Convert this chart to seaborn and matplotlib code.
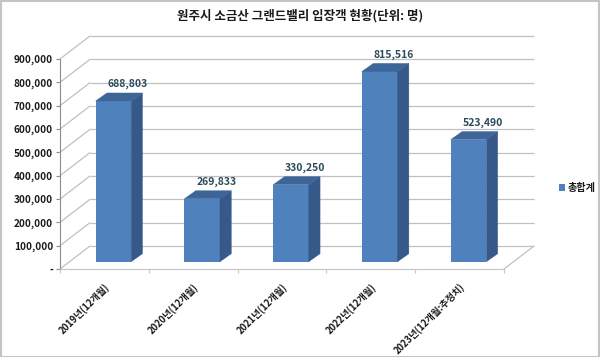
import matplotlib
matplotlib.use("Agg")
import matplotlib.pyplot as plt
import matplotlib.transforms as mtransforms
from matplotlib.patches import Polygon, Rectangle
import seaborn as sns
import pandas as pd

categories = ["2019년(12개월)", "2020년(12개월)", "2021년(12개월)", "2022년(12개월)", "2023년(12개월:추정치)"]
values = [688803, 269833, 330250, 815516, 523490]
yticks = [0, 100000, 200000, 300000, 400000, 500000, 600000, 700000, 800000, 900000]
title = "원주시 소금산 그랜드밸리 입장객 현황(단위: 명)"
series_name = "총합계"

sns.set_theme(style="white")
plt.rcParams["font.family"] = ["Noto Sans CJK KR", "DejaVu Sans"]

W, H = 600, 357
fig = plt.figure(figsize=(W / 100, H / 100), dpi=100)
ax_l, ax_r, ax_t, ax_b = 60, 504, 59, 269
ax = fig.add_axes([ax_l / W, (H - ax_b) / H, (ax_r - ax_l) / W, (ax_b - ax_t) / H])

df = pd.DataFrame({"cat": categories, "val": values})
front = "#4F81BD"
side = "#36598A"
topc = "#3D6597"
sns.barplot(data=df, x="cat", y="val", color=front, width=0.40, ax=ax,
            saturation=1, label=series_name, zorder=3, linewidth=0, edgecolor=front)

ax.set_xlim(-0.5, 4.5)
ax.set_ylim(0, 900000)

ux = 5 / (ax_r - ax_l)
uy = 900000 / (ax_b - ax_t)

# Bar placement inside the 3D box
fx, fy = 9, 7.3      # front face offset (px)
dx, dy = 11.3, 8     # bar depth (px)
off = mtransforms.ScaledTranslation(fx / 100, fy / 100, fig.dpi_scale_trans)
for p in list(ax.patches):
    p.set_transform(ax.transData + off)
    x0, w, h = p.get_x(), p.get_width(), p.get_height()
    X0 = x0 + fx * ux
    X1 = x0 + w + fx * ux
    Y0 = fy * uy
    Y1 = h + fy * uy
    ddx, ddy = dx * ux, dy * uy
    ax.add_patch(Polygon([(X1, Y0), (X1, Y1), (X1 + ddx, Y1 + ddy), (X1 + ddx, Y0 + ddy)],
                         closed=True, facecolor=side, edgecolor=side, lw=0.3, zorder=3))
    ax.add_patch(Polygon([(X0, Y1), (X1, Y1), (X1 + ddx, Y1 + ddy), (X0 + ddx, Y1 + ddy)],
                         closed=True, facecolor=topc, edgecolor=topc, lw=0.3, zorder=3))

# Back wall and side wall lines
bx, by = 30 * ux, 23 * uy
grid_c = "#C0C0C0"
ax.hlines([v + by for v in yticks], -0.5 + bx, 4.5 + bx, colors=grid_c, lw=0.9,
          zorder=1, clip_on=False)
for v in yticks:
    ax.plot([-0.5, -0.5 + bx], [v, v + by], color=grid_c, lw=0.9, zorder=1, clip_on=False)
ax.plot([4.5, 4.5 + bx], [0, by], color=grid_c, lw=0.9, zorder=1, clip_on=False)

# Data labels
for i, v in enumerate(values):
    ax.text(i + 23 * ux, v + 24 * uy, f"{v:,}", ha="center", va="center",
            fontsize=7.5, fontweight="bold", color="#2B4B5C", clip_on=False, zorder=4)

# Axes styling
for s in ["top", "right"]:
    ax.spines[s].set_visible(False)
ax.spines["left"].set_color("#8C8C8C")
ax.spines["left"].set_linewidth(0.8)
ax.spines["bottom"].set_color("#C8C8C8")
ax.spines["bottom"].set_linewidth(0.9)

ax.set_yticks(yticks)
ax.set_yticklabels(["-" if v == 0 else f"{v:,}" for v in yticks], fontsize=7.2,
                   fontweight="bold", color="#1A1A1A")
ax.tick_params(axis="y", left=True, length=3, width=0.8, color="#8C8C8C", pad=2)

ax.set_xticks(range(len(categories)))
ax.set_xticklabels(categories, rotation=45, ha="right", rotation_mode="anchor",
                   fontsize=6.8, fontweight="bold", color="#1A1A1A")
ax.tick_params(axis="x", bottom=True, length=0, pad=9)
ax.set_xticks([i - 0.5 for i in range(len(categories) + 1)], minor=True)
ax.tick_params(axis="x", which="minor", bottom=True, length=3, width=0.8, color="#C8C8C8")
ax.set_xlabel("")
ax.set_ylabel("")
ax.grid(False)

leg = ax.legend(loc="center left", bbox_to_anchor=(554 / W, 1 - 188 / H),
                bbox_transform=fig.transFigure, frameon=False, fontsize=7.3,
                handlelength=0.55, handleheight=0.55, handletextpad=0.3, borderpad=0)
for t in leg.get_texts():
    t.set_fontweight("bold")
    t.set_color("#1A1A1A")

fig.text(300 / W, 1 - 16 / H, title, ha="center", va="center", fontsize=9,
         fontweight="bold", color="#1A1A1A")

fig.patches.append(Rectangle((0.5 / W, 0.5 / H), 1 - 1.5 / W, 1 - 1.5 / H,
                             transform=fig.transFigure, fill=False,
                             edgecolor="#C4C4C4", lw=1.5))

fig.savefig("out.png", dpi=100)
